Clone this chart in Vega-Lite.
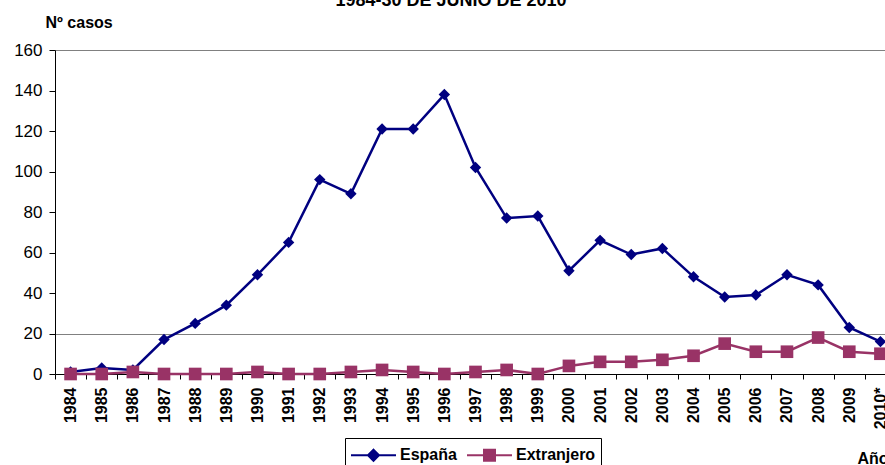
{
  "$schema": "https://vega.github.io/schema/vega-lite/v6.json",
  "width": 830,
  "height": 324,
  "autosize": {"type": "none"},
  "padding": {"left": 55, "top": 50, "right": 0, "bottom": 91},
  "background": "white",
  "config": {
    "view": {"stroke": null},
    "legend": {
      "orient": "none",
      "legendX": 290,
      "legendY": 388,
      "direction": "horizontal",
      "strokeColor": "black",
      "fillColor": "white",
      "padding": 5,
      "labelFont": "Liberation Sans",
      "labelFontSize": 16,
      "labelFontWeight": "bold",
      "labelColor": "black",
      "labelOffset": 26,
      "columnPadding": 6,
      "symbolSize": 484,
      "symbolStrokeWidth": 2,
      "symbolOpacity": 1
    }
  },
  "title": {
    "text": "1984-30 DE JUNIO DE 2010",
    "font": "Liberation Sans",
    "fontSize": 18,
    "fontWeight": "bold",
    "color": "black",
    "anchor": "middle",
    "frame": "group",
    "baseline": "alphabetic",
    "offset": -10,
    "dx": -19
  },
  "data": {
    "values": [
      {"anio": "1984", "serie": "España", "casos": 1},
      {"anio": "1985", "serie": "España", "casos": 3},
      {"anio": "1986", "serie": "España", "casos": 2},
      {"anio": "1987", "serie": "España", "casos": 17},
      {"anio": "1988", "serie": "España", "casos": 25},
      {"anio": "1989", "serie": "España", "casos": 34},
      {"anio": "1990", "serie": "España", "casos": 49},
      {"anio": "1991", "serie": "España", "casos": 65},
      {"anio": "1992", "serie": "España", "casos": 96},
      {"anio": "1993", "serie": "España", "casos": 89},
      {"anio": "1994", "serie": "España", "casos": 121},
      {"anio": "1995", "serie": "España", "casos": 121},
      {"anio": "1996", "serie": "España", "casos": 138},
      {"anio": "1997", "serie": "España", "casos": 102},
      {"anio": "1998", "serie": "España", "casos": 77},
      {"anio": "1999", "serie": "España", "casos": 78},
      {"anio": "2000", "serie": "España", "casos": 51},
      {"anio": "2001", "serie": "España", "casos": 66},
      {"anio": "2002", "serie": "España", "casos": 59},
      {"anio": "2003", "serie": "España", "casos": 62},
      {"anio": "2004", "serie": "España", "casos": 48},
      {"anio": "2005", "serie": "España", "casos": 38},
      {"anio": "2006", "serie": "España", "casos": 39},
      {"anio": "2007", "serie": "España", "casos": 49},
      {"anio": "2008", "serie": "España", "casos": 44},
      {"anio": "2009", "serie": "España", "casos": 23},
      {"anio": "2010*", "serie": "España", "casos": 16},
      {"anio": "1984", "serie": "Extranjero", "casos": 0},
      {"anio": "1985", "serie": "Extranjero", "casos": 0},
      {"anio": "1986", "serie": "Extranjero", "casos": 1},
      {"anio": "1987", "serie": "Extranjero", "casos": 0},
      {"anio": "1988", "serie": "Extranjero", "casos": 0},
      {"anio": "1989", "serie": "Extranjero", "casos": 0},
      {"anio": "1990", "serie": "Extranjero", "casos": 1},
      {"anio": "1991", "serie": "Extranjero", "casos": 0},
      {"anio": "1992", "serie": "Extranjero", "casos": 0},
      {"anio": "1993", "serie": "Extranjero", "casos": 1},
      {"anio": "1994", "serie": "Extranjero", "casos": 2},
      {"anio": "1995", "serie": "Extranjero", "casos": 1},
      {"anio": "1996", "serie": "Extranjero", "casos": 0},
      {"anio": "1997", "serie": "Extranjero", "casos": 1},
      {"anio": "1998", "serie": "Extranjero", "casos": 2},
      {"anio": "1999", "serie": "Extranjero", "casos": 0},
      {"anio": "2000", "serie": "Extranjero", "casos": 4},
      {"anio": "2001", "serie": "Extranjero", "casos": 6},
      {"anio": "2002", "serie": "Extranjero", "casos": 6},
      {"anio": "2003", "serie": "Extranjero", "casos": 7},
      {"anio": "2004", "serie": "Extranjero", "casos": 9},
      {"anio": "2005", "serie": "Extranjero", "casos": 15},
      {"anio": "2006", "serie": "Extranjero", "casos": 11},
      {"anio": "2007", "serie": "Extranjero", "casos": 11},
      {"anio": "2008", "serie": "Extranjero", "casos": 18},
      {"anio": "2009", "serie": "Extranjero", "casos": 11},
      {"anio": "2010*", "serie": "Extranjero", "casos": 10}
    ]
  },
  "encoding": {
    "x": {
      "field": "anio",
      "type": "ordinal",
      "sort": null,
      "scale": {"type": "band", "range": [0, 841], "paddingInner": 0, "paddingOuter": 0},
      "axis": {
        "title": "Año",
        "titleX": 802,
        "titleY": 89,
        "titleAlign": "left",
        "titleBaseline": "alphabetic",
        "titleFont": "Liberation Sans",
        "titleFontSize": 16,
        "titleFontWeight": "bold",
        "titleColor": "black",
        "labelAngle": -90,
        "labelFont": "Liberation Sans",
        "labelFontSize": 16,
        "labelFontWeight": "bold",
        "labelColor": "black",
        "labelPadding": 8,
        "labelOverlap": false,
        "tickBand": "extent",
        "tickSize": 5,
        "tickColor": "black",
        "domainColor": "black",
        "grid": false
      }
    },
    "y": {
      "field": "casos",
      "type": "quantitative",
      "scale": {"domain": [0, 160], "nice": false},
      "axis": {
        "title": "Nº casos",
        "titleAngle": 0,
        "titleX": -10,
        "titleY": -23,
        "titleAlign": "left",
        "titleBaseline": "alphabetic",
        "titleFont": "Liberation Sans",
        "titleFontSize": 16,
        "titleFontWeight": "bold",
        "titleColor": "black",
        "values": [0, 20, 40, 60, 80, 100, 120, 140, 160],
        "labelFont": "Liberation Sans",
        "labelFontSize": 17,
        "labelColor": "black",
        "labelPadding": 7,
        "tickSize": 6,
        "tickColor": "black",
        "domainColor": "black",
        "grid": true,
        "gridColor": "#808080",
        "gridOpacity": {"condition": {"test": "datum.value == 20 || datum.value == 160", "value": 1}, "value": 0}
      }
    }
  },
  "layer": [
    {
      "mark": {"type": "line", "strokeWidth": 2.5},
      "encoding": {
        "color": {"field": "serie", "type": "nominal", "scale": {"domain": ["España", "Extranjero"], "range": ["#000080", "#993366"]}, "legend": null}
      }
    },
    {
      "mark": {"type": "point", "filled": true, "opacity": 1},
      "encoding": {
        "color": {"field": "serie", "type": "nominal", "scale": {"domain": ["España", "Extranjero"], "range": ["#000080", "#993366"]}, "legend": null},
        "shape": {"field": "serie", "type": "nominal", "scale": {"domain": ["España", "Extranjero"], "range": ["diamond", "square"]}, "legend": null},
        "size": {"field": "serie", "type": "ordinal", "scale": {"domain": ["España", "Extranjero"], "range": [130, 160]}, "legend": null}
      }
    },
    {
      "mark": {"type": "point", "filled": true, "opacity": 0},
      "encoding": {
        "fill": {"field": "serie", "type": "nominal", "scale": {"domain": ["España", "Extranjero"], "range": ["#000080", "#993366"]}, "legend": {"title": null}},
        "stroke": {"field": "serie", "type": "nominal", "scale": {"domain": ["España", "Extranjero"], "range": ["#000080", "#993366"]}, "legend": {"title": null}},
        "shape": {"field": "serie", "type": "nominal", "scale": {"domain": ["España", "Extranjero"], "range": ["M-1,0H3.09M1.045,-0.5L1.545,0L1.045,0.5L0.545,0Z", "M-1,0H3.09M0.545,-0.5H1.545V0.5H0.545Z"]}, "legend": {"title": null}}
      }
    }
  ],
  "resolve": {"scale": {"shape": "independent", "fill": "independent", "stroke": "independent"}}
}
